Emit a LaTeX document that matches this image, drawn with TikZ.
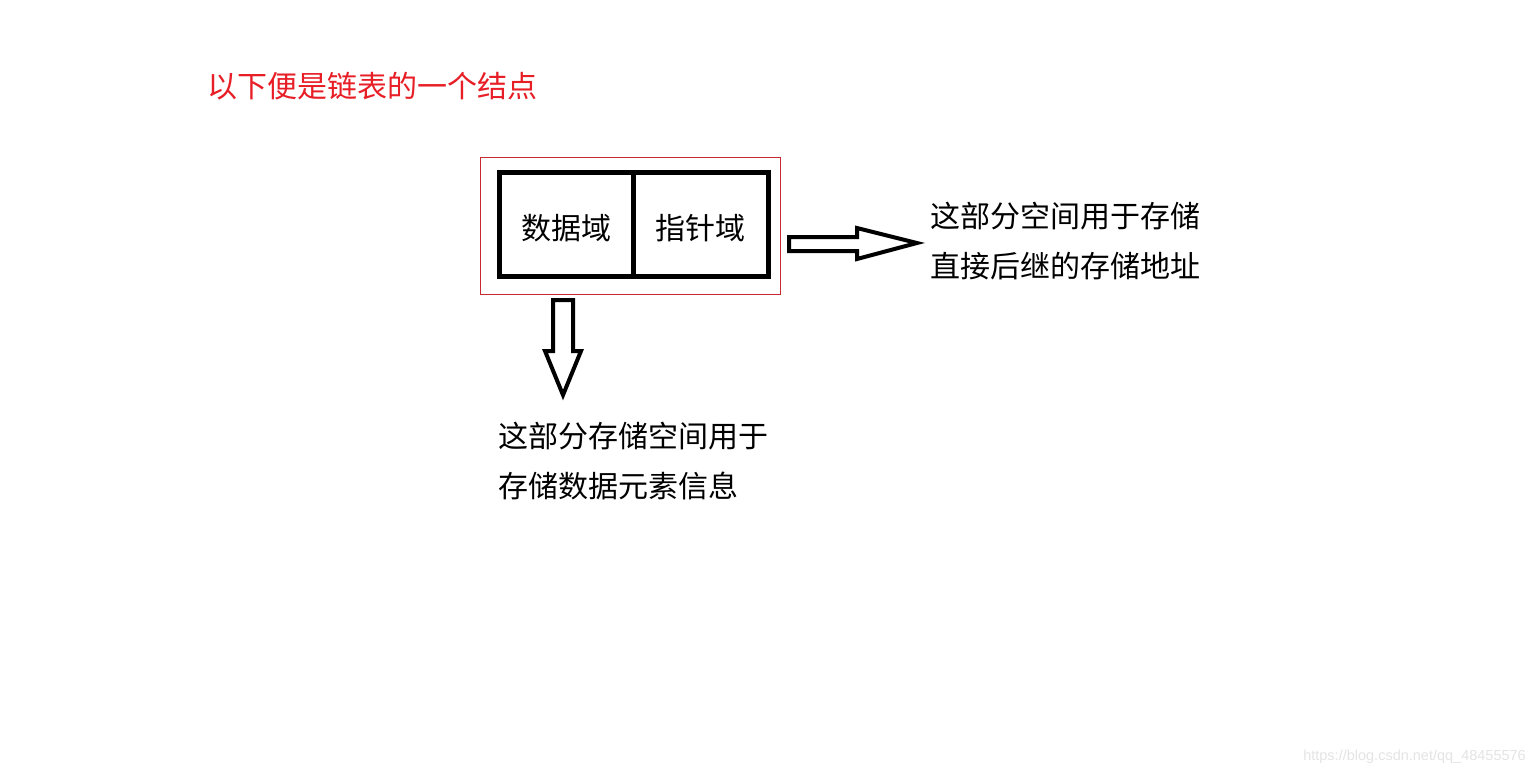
\documentclass[tikz,border=0pt]{standalone}
\usepackage{fontspec}
\setmainfont{Liberation Sans}
\newfontfamily\cjk{Noto Sans CJK SC}
\definecolor{titlered}{RGB}{232,30,38}
\definecolor{framered}{RGB}{200,40,50}
\definecolor{wmgray}{RGB}{228,228,228}
\begin{document}
\begin{tikzpicture}[x=1pt,y=-1pt,
  cell/.style={draw, line width=5pt, minimum height=104pt, inner sep=0pt},
  celltext/.style={font=\cjk\fontsize{30}{36}\selectfont, inner sep=0pt},
  txt/.style={font=\cjk\fontsize{30}{50}\selectfont, align=left, inner sep=0pt},
  blockarrow/.style={draw, line width=4pt, line join=miter, fill=white}]
\useasboundingbox[fill=white] (0,0) rectangle (1534,774);
% title
\node[txt, text=titlered, anchor=west] (title) at (207,86) {以下便是链表的一个结点};
% frame
\draw[framered, line width=1pt] (480.5,157.5) rectangle (780.5,294.5);
% node cells
\node[cell, minimum width=133.5pt] (data) at (566.25,224.5) {};
\node[cell, minimum width=135.5pt] (ptr) at (700.75,224.5) {};
\node[celltext] (datat) at ([yshift=-4pt]data.center) {数据域};
\node[celltext] (ptrt) at ([yshift=-4pt]ptr.center) {指针域};
% right block arrow
\draw[blockarrow] (789,237) -- (857,237) -- (857,228) -- (917,243) -- (857,259) -- (857,251) -- (789,251) -- cycle;
% down block arrow
\draw[blockarrow] (553,300) -- (573,300) -- (573,351) -- (581,351) -- (563,395) -- (545,351) -- (553,351) -- cycle;
% texts
\node[txt, anchor=west] (rtext) at (930,241) {这部分空间用于存储\\直接后继的存储地址};
\node[txt, anchor=west] (btext) at (498,461) {这部分存储空间用于\\存储数据元素信息};
% watermark
\node[font=\fontsize{14.5}{16}\selectfont, text=wmgray, anchor=east, inner sep=0pt] (wm) at (1526,757) {https://blog.csdn.net/qq\_48455576};
\end{tikzpicture}
\end{document}
